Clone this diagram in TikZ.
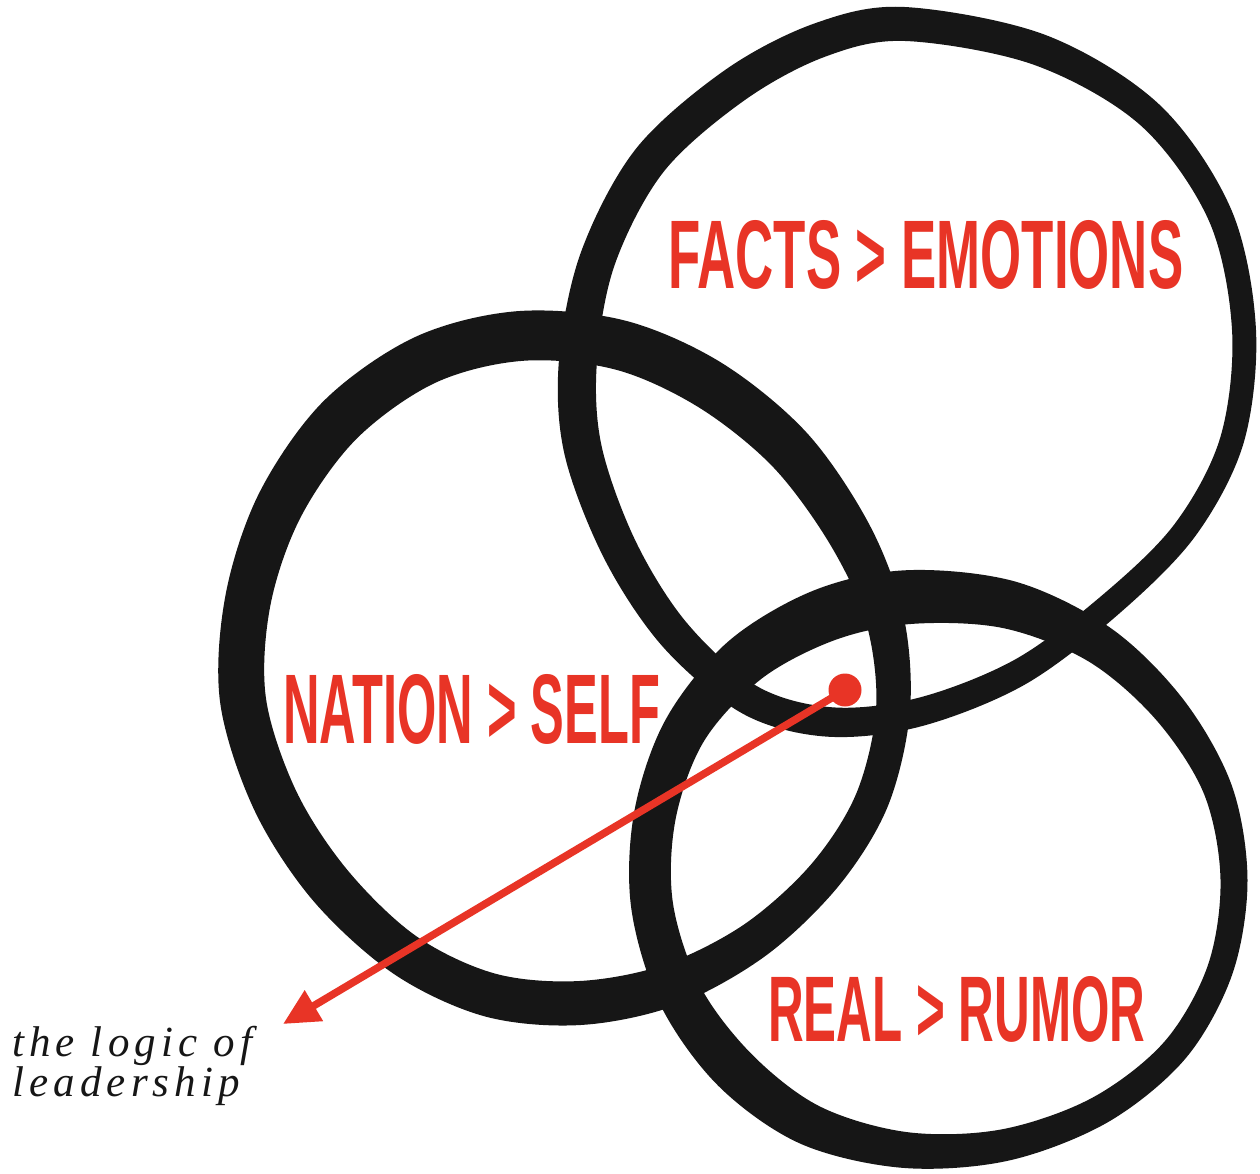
\documentclass[tikz,border=0pt]{standalone}
\usepackage{fontspec}
\usepackage{graphicx}
\setmainfont{Liberation Serif}
\newfontfamily\headfont{Liberation Sans}
\newfontfamily\notefont[LetterSpace=12]{Liberation Serif}
\usetikzlibrary{arrows.meta,calc}
\definecolor{inkred}{RGB}{232,52,38}
\definecolor{ink}{RGB}{22,22,22}
\tikzset{
  ringfill/.style={fill=ink, even odd rule},
  label/.style={inner sep=0pt, text=inkred, font=\headfont\bfseries},
  pointer/.style={draw=inkred, line width=7.5pt, -{Triangle[length=36pt,width=34pt]}},
  dotnode/.style={circle, fill=inkred, inner sep=0pt, minimum size=33pt},
  note/.style={inner sep=0pt, align=left, font=\notefont\itshape\fontsize{43}{38}\selectfont, text=ink}
}
\newcommand\mkringpts[3]{%
  \foreach \n/\px/\py/\w in {#3} {
    \coordinate (#1\n) at (\px,\py);
    \coordinate (#1o\n) at ($(#1\n)!{-0.5*\w pt}!(#2)$);
    \coordinate (#1i\n) at ($(#1\n)!{0.5*\w pt}!(#2)$);
  }}
\begin{document}
\begin{tikzpicture}[x=1pt,y=-1pt]
\useasboundingbox[fill=white] (0,0) rectangle (1260,1173);
% ring centres
\coordinate (Tc) at (910,372);
\coordinate (Lc) at (565,669);
\coordinate (Bc) at (943,873);
% top ring
\mkringpts{T}{Tc}{1/905/24/34, 2/1040/50/32, 3/1150/115/28, 4/1220/215/25, 5/1244/330/24,
 6/1232/440/24, 7/1185/530/24, 8/1110/605/25, 9/1020/672/27, 10/920/712/29,
 11/830/722/30, 12/750/700/31, 13/675/635/34, 14/620/550/36, 15/583/450/38,
 16/578/360/38, 17/598/258/36, 18/650/160/36, 19/735/85/36, 20/820/40/35}
\fill[ringfill] plot[smooth cycle, tension=0.55] coordinates {(To1) (To2) (To3) (To4) (To5) (To6) (To7) (To8) (To9) (To10) (To11) (To12) (To13) (To14) (To15) (To16) (To17) (To18) (To19) (To20)}
 plot[smooth cycle, tension=0.55] coordinates {(Ti1) (Ti2) (Ti3) (Ti4) (Ti5) (Ti6) (Ti7) (Ti8) (Ti9) (Ti10) (Ti11) (Ti12) (Ti13) (Ti14) (Ti15) (Ti16) (Ti17) (Ti18) (Ti19) (Ti20)};
% left ring
\mkringpts{L}{Lc}{1/520/336/50, 2/620/345/50, 3/710/385/50, 4/790/450/48, 5/850/535/44,
 6/885/620/38, 7/893/710/34, 8/872/800/34, 9/825/875/35, 10/755/940/38,
 11/670/985/42, 12/580/1003/44, 13/490/995/44, 14/405/955/44, 15/330/885/46,
 16/275/800/46, 17/243/700/46, 18/248/600/46, 19/280/505/48, 20/340/420/50, 21/425/360/50}
\fill[ringfill] plot[smooth cycle, tension=0.55] coordinates {(Lo1) (Lo2) (Lo3) (Lo4) (Lo5) (Lo6) (Lo7) (Lo8) (Lo9) (Lo10) (Lo11) (Lo12) (Lo13) (Lo14) (Lo15) (Lo16) (Lo17) (Lo18) (Lo19) (Lo20) (Lo21)}
 plot[smooth cycle, tension=0.55] coordinates {(Li1) (Li2) (Li3) (Li4) (Li5) (Li6) (Li7) (Li8) (Li9) (Li10) (Li11) (Li12) (Li13) (Li14) (Li15) (Li16) (Li17) (Li18) (Li19) (Li20) (Li21)};
% bottom ring
\mkringpts{B}{Bc}{1/910/597/54, 2/1010/605/48, 3/1100/645/40, 4/1170/710/34, 5/1218/790/29,
 6/1234/880/27, 7/1220/970/26, 8/1175/1050/27, 9/1100/1110/29, 10/1005/1145/32,
 11/905/1150/36, 12/810/1125/42, 13/735/1070/46, 14/680/995/44, 15/652/905/42,
 16/655/815/42, 17/685/730/44, 18/745/660/50, 19/825/615/54}
\fill[ringfill] plot[smooth cycle, tension=0.55] coordinates {(Bo1) (Bo2) (Bo3) (Bo4) (Bo5) (Bo6) (Bo7) (Bo8) (Bo9) (Bo10) (Bo11) (Bo12) (Bo13) (Bo14) (Bo15) (Bo16) (Bo17) (Bo18) (Bo19)}
 plot[smooth cycle, tension=0.55] coordinates {(Bi1) (Bi2) (Bi3) (Bi4) (Bi5) (Bi6) (Bi7) (Bi8) (Bi9) (Bi10) (Bi11) (Bi12) (Bi13) (Bi14) (Bi15) (Bi16) (Bi17) (Bi18) (Bi19)};
% labels
\node[label, anchor=south west] (facts) at (668,290) {\resizebox{515pt}{68pt}{FACTS > EMOTIONS}};
\node[label, anchor=south west] (nation) at (283,745) {\resizebox{377pt}{69pt}{NATION > SELF}};
\node[label, anchor=south west] (real) at (768,1043) {\resizebox{377pt}{65pt}{REAL > RUMOR}};
% pointer
\node[dotnode] (dot) at (845,690) {};
\coordinate (tip) at (283,1024);
\draw[pointer] (dot.center) -- (tip);
\node[note, anchor=north west] (logic) at (12,1026) {the logic of\\leadership};
\end{tikzpicture}
\end{document}
